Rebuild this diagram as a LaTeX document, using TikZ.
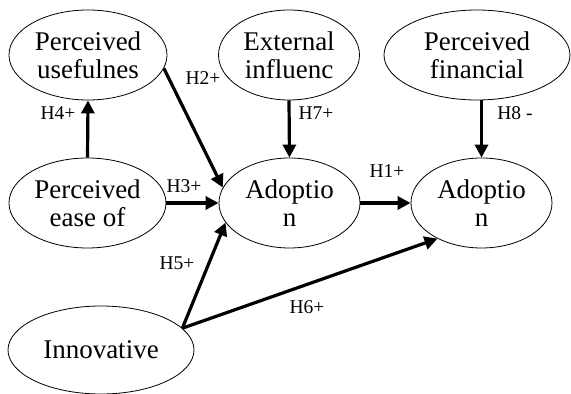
\documentclass[tikz,border=0pt]{standalone}
\usepackage{fontspec}
\setmainfont{Liberation Serif}
\usetikzlibrary{shapes.geometric,arrows.meta}

\begin{document}
\begin{tikzpicture}[x=1pt,y=1pt,
    construct/.style={ellipse,draw,line width=0.8pt,inner sep=0pt,align=center,
      minimum height=90,font=\fontsize{27}{28}\selectfont},
    hyp/.style={font=\fontsize{19.5}{20}\selectfont,inner sep=0pt},
    arr/.style={line width=3.2pt,-{Triangle[length=13pt,width=13pt]}}]
    \useasboundingbox (0,0) rectangle (571,394);
    \node[construct,minimum width=158] (usef)   at (88,339)    {Perceived\\usefulnes};
    \node[construct,minimum width=141] (extinf) at (289,339)   {External\\influenc};
    \node[construct,minimum width=186] (finan)  at (477,339)   {Perceived\\financial};
    \node[construct,minimum width=157] (ease)   at (87.5,191)  {Perceived\\ease of};
    \node[construct,minimum width=141] (adopt)  at (289.5,191) {Adoptio\\n};
    \node[construct,minimum width=141] (adoptb) at (481.5,191) {Adoptio\\n};
    \node[construct,minimum width=186,minimum height=88] (innov) at (101,44) {Innovative};

    \draw[arr] (ease.north) -- (usef.south);
    \draw[arr] (usef.-10) -- (adopt.167);
    \draw[arr] (extinf.south) -- (adopt.north);
    \draw[arr] (adoptb.north |- finan.south) -- (adoptb.north);
    \draw[arr] (ease.east) -- (adopt.west);
    \draw[arr] (adopt.east) -- (adoptb.west);
    \draw[arr] (innov.15) -- (adopt.197);
    \draw[arr] (innov.15) -- (adoptb.219);

    \node[hyp] (h1) at (387,223) {H1+};
    \node[hyp] (h2) at (203,316) {H2+};
    \node[hyp] (h3) at (184,208) {H3+};
    \node[hyp] (h4) at (58,281)  {H4+};
    \node[hyp] (h5) at (177,131) {H5+};
    \node[hyp] (h6) at (307,87)  {H6+};
    \node[hyp] (h7) at (316,281) {H7+};
    \node[hyp] (h8) at (515,281) {H8 -};
\end{tikzpicture}
\end{document}
